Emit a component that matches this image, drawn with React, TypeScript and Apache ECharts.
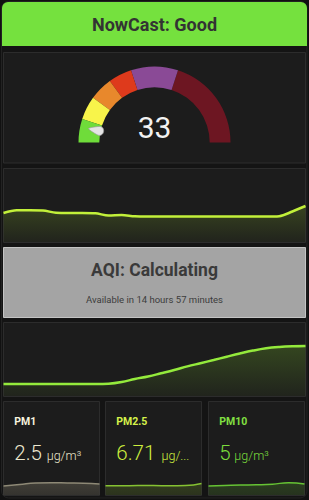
import React, { useEffect, useRef } from "react";
import * as echarts from "echarts";

// ---- data ----
const headerTitle = "NowCast: Good";
const nowcastValue = 33;
const aqiMax = 500;
const aqiBreaks = [50, 100, 150, 200, 300, 500];
const aqiColors = ["#6fdc3a", "#f8f44a", "#e8882c", "#de3a1c", "#8a4a96", "#6d1622"];

const hist1Labels = Array.from({ length: 24 }, (_, i) => `${i}`);
const hist1Values = [29, 31.7, 31.7, 31.5, 29.2, 29, 29, 28.7, 26.5, 27, 25.7, 25.5, 25.5, 25.5, 25.5, 25.5, 25.5, 25.5, 25.5, 25.5, 25.5, 25.8, 30.5, 36];

const aqiTitle = "AQI: Calculating";
const aqiSubtitle = "Available in 14 hours 57 minutes";

const hist2Labels = Array.from({ length: 24 }, (_, i) => `${i}`);
const hist2Values = [12, 12, 12, 12, 12, 12, 12, 12, 12.3, 14, 17, 19.5, 22.7, 26, 29.6, 32.8, 36, 39.3, 42.5, 45.4, 47.7, 49, 49.7, 50];

const pmNames = ["PM1", "PM2.5", "PM10"];
const pmValues = ["2.5", "6.71", "5"];
const pmUnit = "µg/m³";
const pmSparkLabels = ["0", "1", "2", "3", "4", "5", "6"];
const pm1Spark = [9, 10.5, 12, 12.3, 12, 11.7, 11];
const pm25Spark = [9.3, 9.3, 9.4, 9.4, 9.3, 9.5, 11.5];
const pm10Spark = [9, 9.5, 10, 10.2, 10.8, 12.3, 11];

const FONT = "Roboto";

function grad(r: number, g: number, b: number, a0: number, a1: number) {
  return new echarts.graphic.LinearGradient(0, 0, 0, 1, [
    { offset: 0, color: `rgba(${r},${g},${b},${a0})` },
    { offset: 1, color: `rgba(${r},${g},${b},${a1})` },
  ]);
}

export default function App() {
  const ref = useRef<HTMLDivElement>(null);
  useEffect(() => {
    document.body.style.margin = "0";
    document.body.style.background = "#111";
    const chart = echarts.init(ref.current!, null, { renderer: "svg" });

    const panel = (x: number, y: number, w: number, h: number, fill = "#1c1c1c", stroke = "#2c2c2c") => ({
      type: "rect",
      z: 0,
      shape: { x, y, width: w, height: h },
      style: { fill, stroke, lineWidth: 1 },
    });

    const boxX = [3.5, 105.5, 208.5];
    const unitX = [46.7, 161.5, 234.3];
    const pmColors = ["#ece8cf", "#cdee3e", "#7bdc3c"];
    const pmLabelColors = ["#f6f3df", "#d6f24a", "#82e042"];

    const graphics: any[] = [
      { type: "rect", z: 0, shape: { x: 1.5, y: 1.5, width: 305.5, height: 496.5, r: 7 }, style: { fill: "#141414", stroke: "#222", lineWidth: 1 } },
      { type: "rect", z: 0, shape: { x: 2, y: 2, width: 305, height: 44, r: [6, 6, 0, 0] }, style: { fill: "#75e13e" } },
      { type: "text", z: 10, x: 154.5, y: 24.8, style: { text: headerTitle, fill: "#333", font: `bold 18px ${FONT}`, align: "center", verticalAlign: "middle" } },
      panel(3.5, 52.5, 302, 110.5),
      panel(3.5, 168.5, 302, 74),
      panel(3.5, 247.5, 302, 70, "#a4a4a4", "#c4c4c4"),
      { type: "text", z: 10, x: 154.5, y: 269.8, style: { text: aqiTitle, fill: "#3a3a3a", font: `bold 17.5px ${FONT}`, align: "center", verticalAlign: "middle" } },
      { type: "text", z: 10, x: 154.5, y: 299.3, style: { text: aqiSubtitle, fill: "#3c3c3c", font: `9.5px ${FONT}`, align: "center", verticalAlign: "middle" } },
      panel(3.5, 322.5, 302, 74),
    ];
    pmNames.forEach((n, i) => {
      graphics.push(panel(boxX[i], 401.5, 96, 94));
      graphics.push({ type: "text", z: 10, x: boxX[i] + 10.8, y: 421.4, style: { text: n, fill: pmLabelColors[i], font: `bold 10.5px ${FONT}`, align: "left", verticalAlign: "middle" } });
      graphics.push({ type: "text", z: 10, x: boxX[i] + 10.8, y: 453, style: { text: pmValues[i], fill: pmColors[i], font: `300 20.5px ${FONT}`, align: "left", verticalAlign: "middle" } });
      graphics.push({ type: "text", z: 10, x: unitX[i], y: 455.7, style: { text: pmUnit, fill: pmColors[i], font: `300 12.5px ${FONT}`, align: "left", verticalAlign: "middle", width: i === 1 ? 30 : 80, overflow: "truncate", ellipsis: "..." } });
    });

    const hiddenX = (gridIndex: number, data: string[]) => ({ type: "category", gridIndex, data, boundaryGap: false, show: false });
    const hiddenY = (gridIndex: number, max: number) => ({ type: "value", gridIndex, min: 0, max, show: false, splitLine: { show: false } });

    const lineSeries = (idx: number, data: number[], color: string, width: number, area: any, smooth: any) => ({
      type: "line",
      xAxisIndex: idx,
      yAxisIndex: idx,
      data,
      symbol: "none",
      smooth,
      lineStyle: { color, width },
      areaStyle: { color: area, origin: "start" },
      z: 3,
    });

    chart.setOption({
      animation: false,
      backgroundColor: "#111",
      graphic: { elements: graphics },
      grid: [
        { left: 3.5, width: 302, top: 169, height: 73 },
        { left: 3.5, width: 302, top: 323, height: 73 },
        { left: 3.5, width: 96, top: 478, height: 17 },
        { left: 105.5, width: 96, top: 478, height: 17 },
        { left: 208.5, width: 96, top: 478, height: 17 },
      ],
      xAxis: [
        hiddenX(0, hist1Labels),
        hiddenX(1, hist2Labels),
        hiddenX(2, pmSparkLabels),
        hiddenX(3, pmSparkLabels),
        hiddenX(4, pmSparkLabels),
      ],
      yAxis: [hiddenY(0, 73), hiddenY(1, 73), hiddenY(2, 17), hiddenY(3, 17), hiddenY(4, 17)],
      series: [
        {
          type: "gauge",
          center: [154.5, 142.5],
          radius: 76,
          startAngle: 180,
          endAngle: 0,
          min: 0,
          max: aqiMax,
          z: 5,
          axisLine: {
            lineStyle: {
              width: 20.8,
              color: aqiBreaks.map((b, i) => [b / aqiMax, aqiColors[i]]),
            },
          },
          splitLine: { show: false },
          axisTick: { show: false },
          axisLabel: { show: false },
          anchor: { show: false },
          title: { show: false },
          pointer: {
            icon: "path://M5,0 C6,0 10,12 10,15 C10,18 7.5,20 5,20 C2.5,20 0,18 0,15 C0,12 4,0 5,0 Z",
            length: 15.5,
            width: 9,
            offsetCenter: [0, -52],
            itemStyle: { color: "#e4e4e4", borderColor: "#9a9a9a", borderWidth: 0.6 },
          },
          detail: {
            offsetCenter: [0, -15.5],
            formatter: "{value}",
            fontSize: 30,
            fontFamily: FONT,
            fontWeight: "normal",
            color: "#f2f2f2",
            valueAnimation: false,
          },
          data: [{ value: nowcastValue }],
        },
        lineSeries(0, hist1Values, "#c2f03a", 2.5, grad(120, 160, 40, 0.42, 0.08), 0.3),
        lineSeries(1, hist2Values, "#94ea3c", 2.5, grad(110, 170, 40, 0.42, 0.08), 0.4),
        lineSeries(2, pm1Spark, "#8e8976", 1.5, grad(190, 180, 150, 0.32, 0.22), true),
        lineSeries(3, pm25Spark, "#86c232", 1.5, grad(140, 190, 40, 0.3, 0.2), true),
        lineSeries(4, pm10Spark, "#66c334", 1.5, grad(100, 190, 45, 0.3, 0.2), true),
      ],
    });
    return () => chart.dispose();
  }, []);
  return <div ref={ref} style={{ position: "fixed", left: 0, top: 0, width: 309, height: 500 }} />;
}
